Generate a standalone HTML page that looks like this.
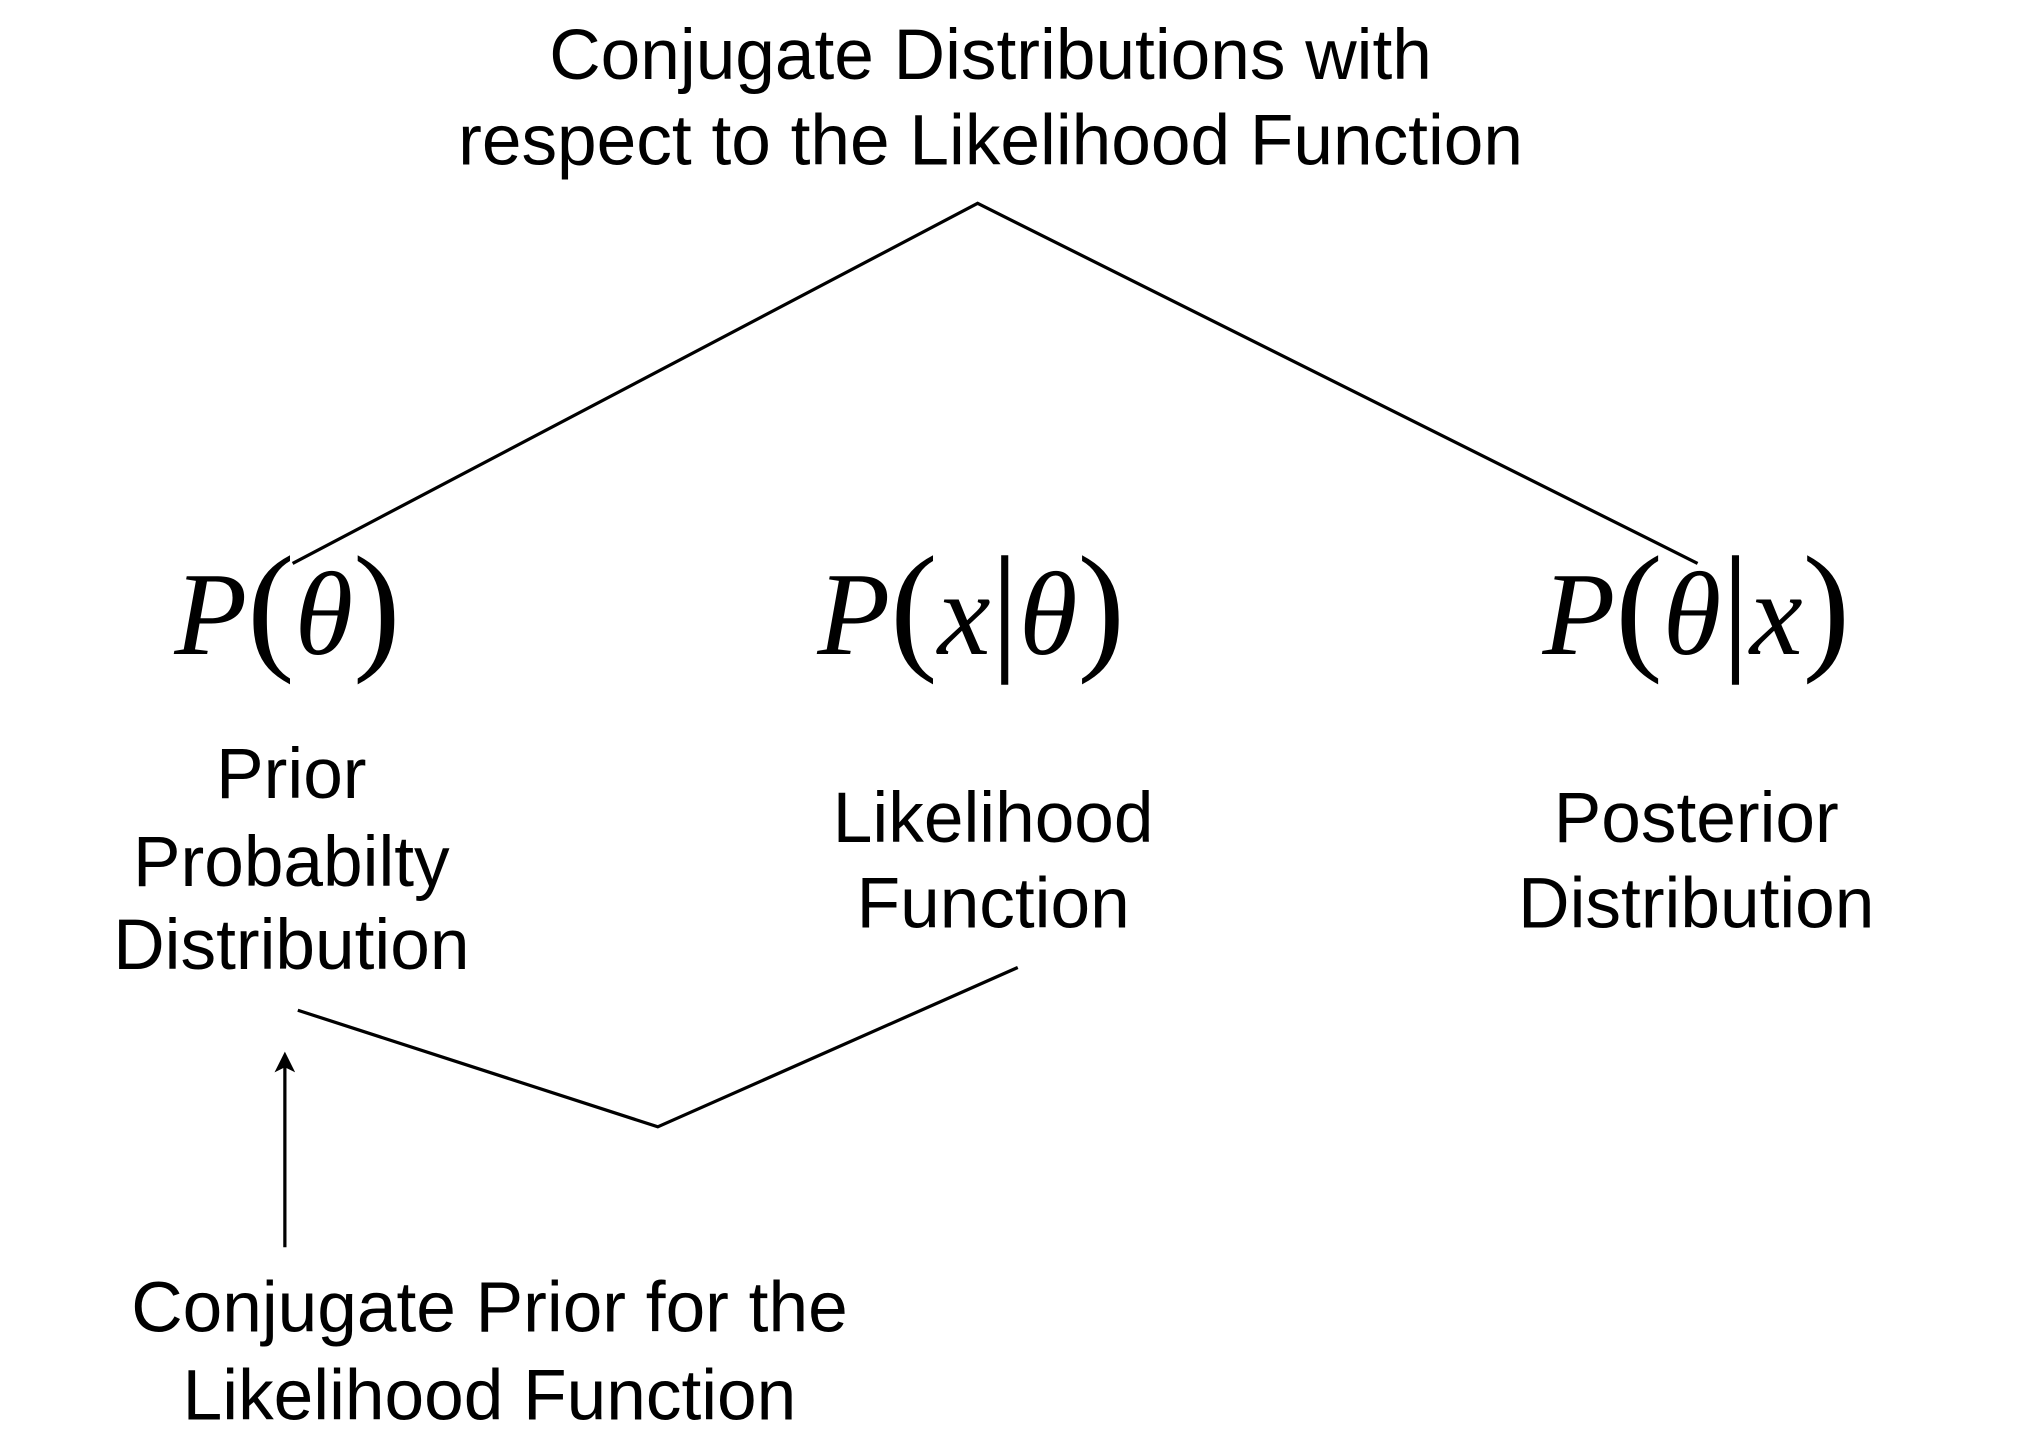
<!DOCTYPE html>
<html><head><meta charset="utf-8"><style>
html,body{margin:0;padding:0;background:#fff;}
svg{display:block;}
.t{font-family:"Liberation Sans",sans-serif;font-size:55px;fill:#000;text-anchor:middle;}
.m{font-family:"Liberation Serif",serif;font-size:92px;fill:#000;text-anchor:middle;}
.i{font-style:italic;}
</style></head><body>
<svg width="2020" height="1448" viewBox="0 0 1560 1118" preserveAspectRatio="none" xmlns="http://www.w3.org/2000/svg">
<defs><marker id="a" markerWidth="16" markerHeight="16" refX="8" refY="8" orient="auto" markerUnits="userSpaceOnUse"><path d="M0,0 L16,8 L0,16 L4,8 Z" fill="#000"/></marker></defs>
<text class="t" x="765" y="61">Conjugate Distributions with</text>
<text class="t" x="765" y="127">respect to the Likelihood Function</text>
<polyline points="226,435 755,157 1311,435" fill="none" stroke="#000" stroke-width="2.5"/>
<text class="m" x="222" y="505"><tspan class="i">P</tspan><tspan font-size="110">(</tspan><tspan class="i">θ</tspan><tspan font-size="110">)</tspan></text>
<text class="m" x="750" y="505"><tspan class="i">P</tspan><tspan font-size="110">(</tspan><tspan class="i">x</tspan><tspan font-size="110">|</tspan><tspan class="i">θ</tspan><tspan font-size="110">)</tspan></text>
<text class="m" x="1310" y="505"><tspan class="i">P</tspan><tspan font-size="110">(</tspan><tspan class="i">θ</tspan><tspan font-size="110">|</tspan><tspan class="i">x</tspan><tspan font-size="110">)</tspan></text>
<text class="t" x="225" y="616">Prior</text>
<text class="t" x="225" y="684">Probabilty</text>
<text class="t" x="225" y="748">Distribution</text>
<text class="t" x="767" y="650">Likelihood</text>
<text class="t" x="767" y="716">Function</text>
<text class="t" x="1310" y="650">Posterior</text>
<text class="t" x="1310" y="716">Distribution</text>
<polyline points="230,780 508,870 786,747" fill="none" stroke="#000" stroke-width="2.5"/>
<line x1="220" y1="963" x2="220" y2="820" stroke="#000" stroke-width="2.5" marker-end="url(#a)"/>
<text class="t" x="378" y="1028">Conjugate Prior for the</text>
<text class="t" x="378" y="1096">Likelihood Function</text>
</svg>
</body></html>
